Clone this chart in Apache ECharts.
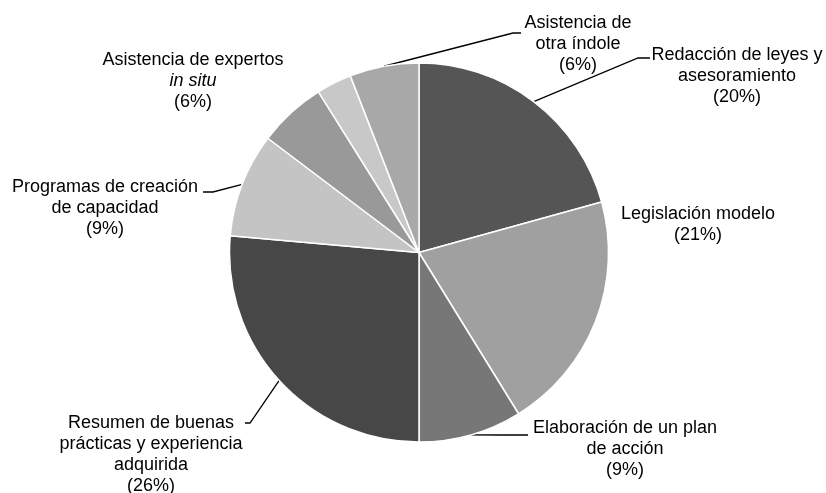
<!DOCTYPE html>
<html><head><meta charset="utf-8">
<script src="https://cdn.jsdelivr.net/npm/echarts@6/dist/echarts.min.js"></script>
<style>html,body{margin:0;padding:0;background:#fff}#c{width:826px;height:493px}</style>
</head><body><div id="c"></div>
<script>
// ---- data ----
const categories = ['Redacción de leyes y asesoramiento','Legislación modelo','Elaboración de un plan de acción','Resumen de buenas prácticas y experiencia adquirida','Programas de creación de capacidad','Asistencia de expertos in situ','Otra','Asistencia de otra índole'];
const values = [20.7, 20.5, 8.8, 26.4, 8.9, 5.8, 3.0, 5.9];
const percentLabels = ['20%','21%','9%','26%','9%','6%','','6%'];
const labelTexts = [
  'Redacción de leyes y\nasesoramiento',
  'Legislación modelo',
  'Elaboración de un plan\nde acción',
  'Resumen de buenas\nprácticas y experiencia\nadquirida',
  'Programas de creación\nde capacidad',
  'Asistencia de expertos\n{i|in situ}',
  '',
  'Asistencia de\notra índole'
];

// ---- style / layout ----
const colors = ['#555555','#a0a0a0','#777777','#474747','#c4c4c4','#999999','#c8c8c8','#a8a8a8'];
const labelPos = [[737,76],[698,225],[625,449],[151,455],[105,208],[193,81],null,[578,44]];
const leaderPts = [[[638,58],[650,58]], null, [[500,435],[528,435]], [[250,423],[245,423]], [[213,192],[203,192]], null, null, [[513,33],[521,33]]];

const chart = echarts.init(document.getElementById('c'), null, {renderer:'canvas'});
const font = '"Liberation Sans", Arial, sans-serif';
const data = categories.map((n, i) => ({
  name: n,
  value: values[i],
  itemStyle: { color: colors[i] },
  label: { show: labelTexts[i] !== '' },
  labelLine: { show: leaderPts[i] !== null }
}));

chart.setOption({
  animation: false,
  series: [{
    type: 'pie',
    center: [419, 252.5],
    radius: 189.5,
    startAngle: 90,
    clockwise: true,
    avoidLabelOverlap: false,
    data: data,
    itemStyle: { borderColor: '#ffffff', borderWidth: 1.5 },
    label: {
      position: 'outside',
      alignTo: 'none',
      color: '#000',
      fontFamily: font,
      fontSize: 18,
      lineHeight: 21,
      formatter: p => labelTexts[p.dataIndex] + '\n(' + percentLabels[p.dataIndex] + ')',
      rich: { i: { fontStyle: 'italic', fontFamily: font, fontSize: 18, lineHeight: 21, color: '#000' } }
    },
    labelLine: { lineStyle: { color: '#000', width: 1.3 }, length: 10, length2: 10 },
    labelLayout: function (p) {
      const i = p.dataIndex;
      const pos = labelPos[i];
      if (!pos) return {};
      const out = { x: pos[0], y: pos[1], align: 'center', verticalAlign: 'middle', hideOverlap: false };
      if (leaderPts[i] && p.labelLinePoints) {
        out.labelLinePoints = [p.labelLinePoints[0].slice()].concat(leaderPts[i]);
      }
      return out;
    }
  }]
});
</script></body></html>
